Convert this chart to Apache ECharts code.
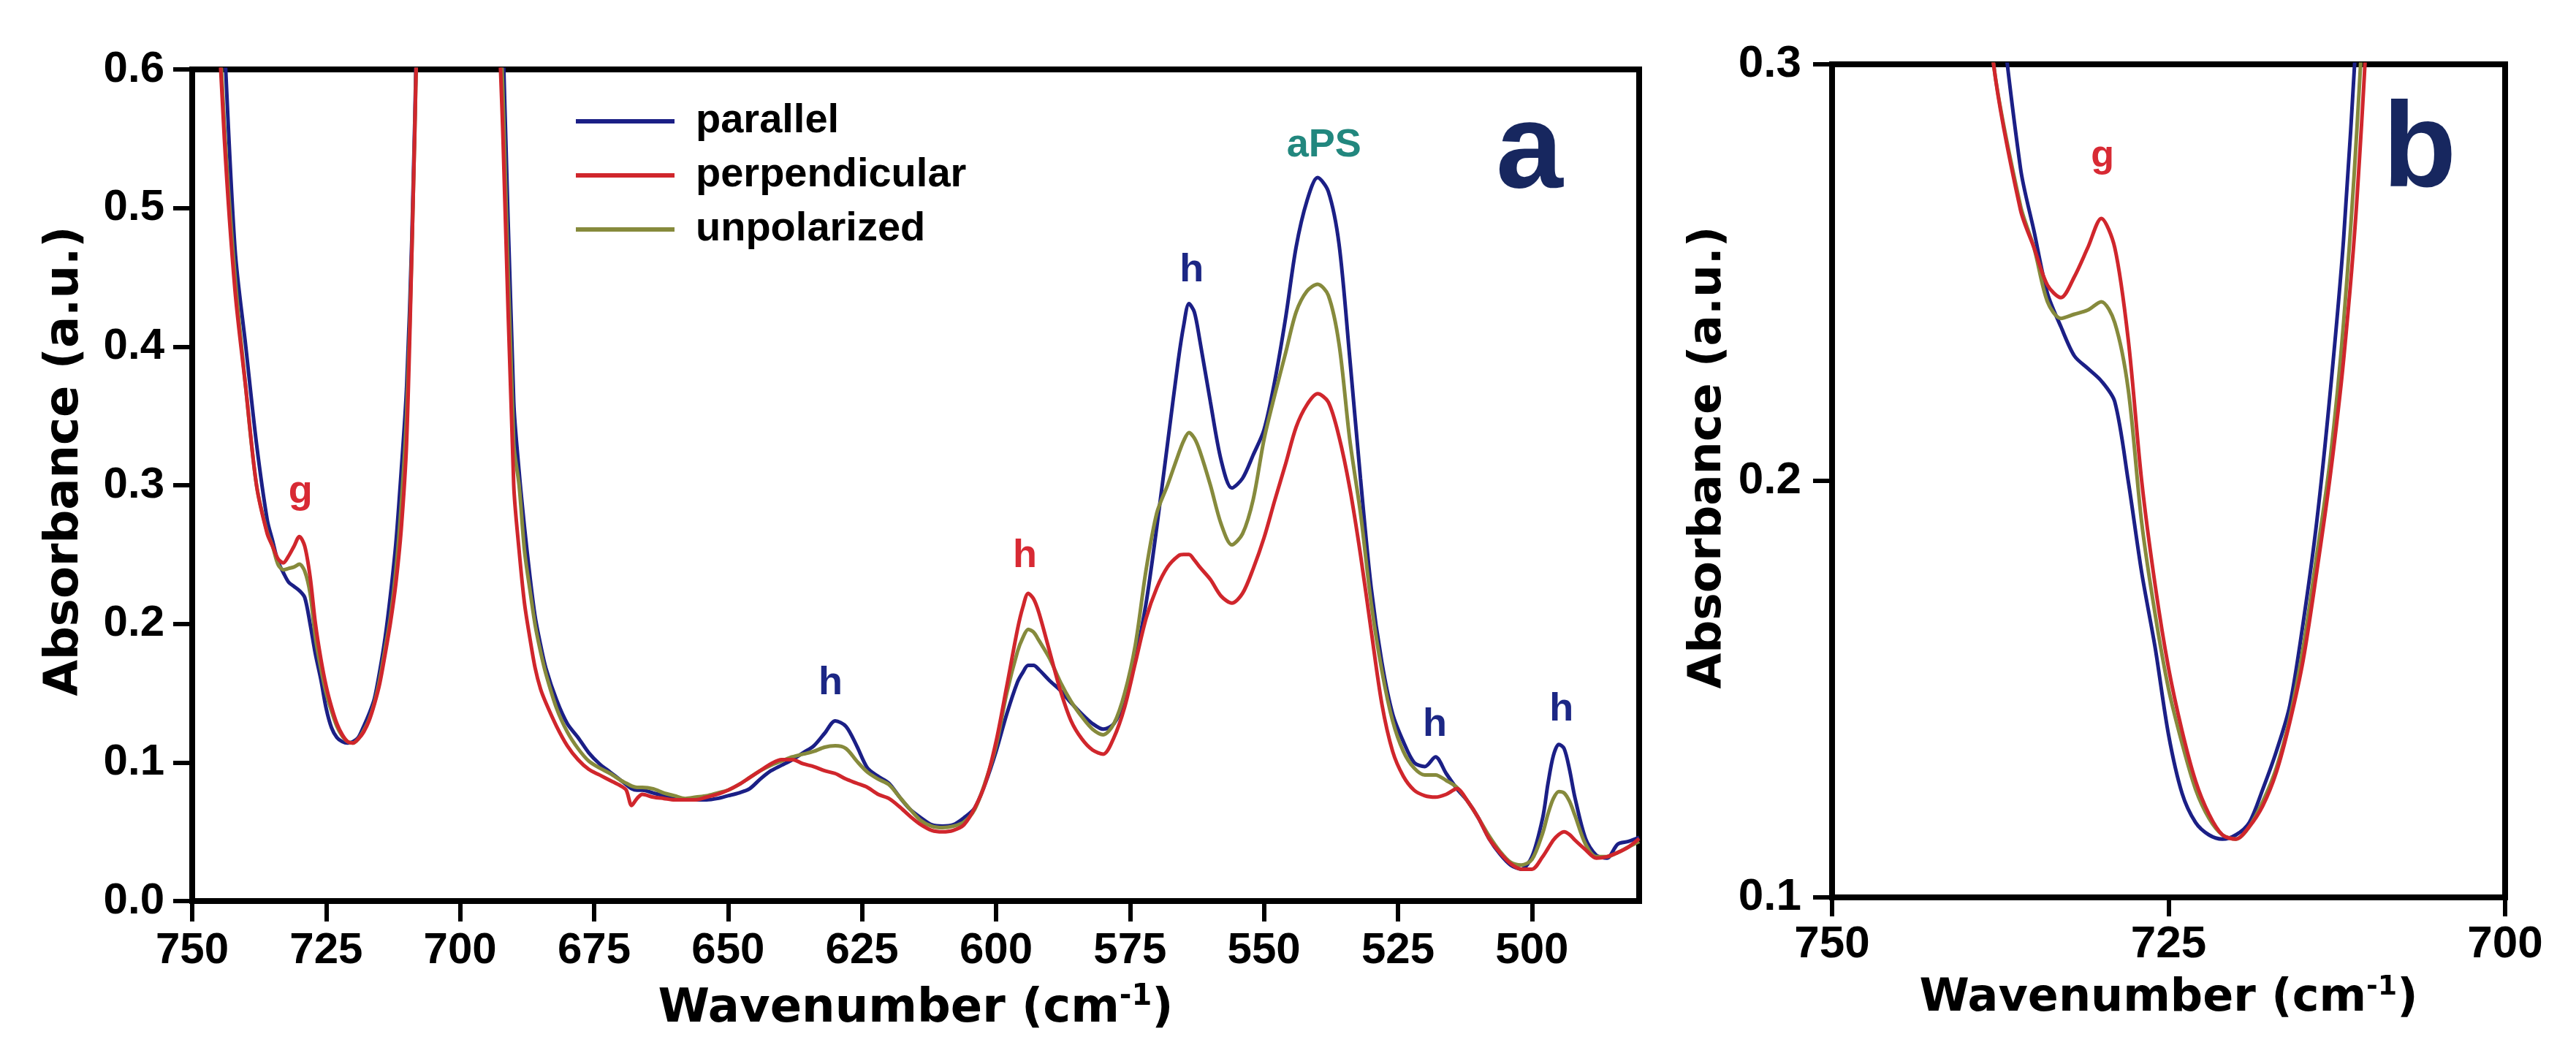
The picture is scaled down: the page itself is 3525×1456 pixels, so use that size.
<!DOCTYPE html>
<html>
<head>
<meta charset="utf-8">
<script src="https://cdn.jsdelivr.net/npm/echarts@6/dist/echarts.min.js"></script>
<style>
html, body { margin: 0; padding: 0; background: #fff; }
#chart { width: 3525px; height: 1456px; }
</style>
</head>
<body>
<div id="chart"></div>
<script>
// wavenumber grid (cm-1), shared by the three spectra
var wavenumber = [
  748,746,744,742,740,738,736,735,734,733,
  732,731,730,729,728,727,726,725,724,723,
  722,721,720,719,718,717,716,715,714,713,
  712,711,710,709,708,705,698,694,692,690,
  689,688,687,686,685,684,682,680,678,676,
  674,672,670,669,668,667,666,664,662,660,
  658,656,654,652,650,648,646,644,642,640,
  638,636,634,632,630,628,626,624,622,620,
  618,616,614,612,610,608,606,604,602,600,
  598,596,595,594,593,592,590,588,586,584,
  582,580,578,576,574,572,570,568,566,565,
  564,563,562,560,558,556,554,552,550,548,
  546,544,542,540,538,536,534,532,530,528,
  526,524,522,520,518,516,514,512,510,508,
  506,504,502,500,498,497,496,495,494,493,
  492,490,488,486,484,482,480
];

var parallel = [
  1.00,0.78,0.62,0.47,0.40,0.33,0.275,0.26,0.245,0.237,
  0.230,0.227,0.224,0.219,0.200,0.178,0.160,0.139,0.125,0.118,
  0.115,0.114,0.115,0.118,0.126,0.135,0.146,0.166,0.190,0.221,
  0.258,0.31,0.37,0.48,0.65,1.3,2.0,0.85,0.62,0.36,
  0.31,0.27,0.235,0.205,0.185,0.168,0.145,0.128,0.118,0.107,
  0.099,0.093,0.087,0.084,0.081,0.080,0.080,0.078,0.076,0.074,
  0.073,0.073,0.073,0.074,0.076,0.078,0.081,0.088,0.094,0.098,
  0.102,0.107,0.112,0.121,0.130,0.126,0.112,0.096,0.090,0.085,
  0.075,0.066,0.060,0.055,0.054,0.055,0.060,0.067,0.085,0.108,
  0.135,0.158,0.165,0.170,0.170,0.167,0.159,0.152,0.143,0.135,
  0.128,0.124,0.128,0.145,0.175,0.215,0.270,0.330,0.390,0.415,
  0.431,0.425,0.405,0.360,0.318,0.298,0.305,0.322,0.340,0.375,
  0.420,0.472,0.505,0.522,0.512,0.474,0.392,0.305,0.226,0.172,
  0.135,0.115,0.100,0.097,0.104,0.092,0.081,0.072,0.060,0.045,
  0.034,0.026,0.023,0.032,0.060,0.085,0.105,0.113,0.110,0.095,
  0.075,0.045,0.033,0.031,0.041,0.043,0.046
];

var perpendicular = [
  0.95,0.71,0.55,0.44,0.37,0.30,0.265,0.256,0.247,0.244,
  0.249,0.256,0.263,0.256,0.234,0.200,0.175,0.155,0.140,0.128,
  0.120,0.115,0.114,0.117,0.122,0.130,0.142,0.157,0.178,0.201,
  0.229,0.268,0.33,0.47,0.64,1.3,2.0,0.78,0.55,0.30,
  0.253,0.215,0.190,0.168,0.153,0.143,0.126,0.112,0.102,0.095,
  0.091,0.087,0.083,0.080,0.069,0.074,0.077,0.075,0.074,0.073,
  0.073,0.073,0.075,0.077,0.080,0.084,0.089,0.094,0.099,0.102,
  0.102,0.099,0.097,0.094,0.092,0.088,0.085,0.082,0.077,0.074,
  0.068,0.061,0.055,0.051,0.050,0.051,0.055,0.067,0.085,0.115,
  0.155,0.196,0.212,0.222,0.218,0.208,0.180,0.152,0.130,0.117,
  0.109,0.106,0.118,0.140,0.172,0.204,0.226,0.241,0.249,0.250,
  0.250,0.246,0.241,0.232,0.220,0.215,0.222,0.240,0.262,0.289,
  0.315,0.342,0.358,0.366,0.360,0.335,0.298,0.250,0.195,0.142,
  0.108,0.090,0.080,0.076,0.075,0.077,0.081,0.072,0.060,0.045,
  0.035,0.027,0.023,0.023,0.032,0.038,0.044,0.048,0.050,0.048,
  0.044,0.037,0.031,0.032,0.035,0.039,0.045
];

var unpolarized = [
  0.96,0.72,0.56,0.45,0.37,0.30,0.266,0.256,0.243,0.239,
  0.240,0.241,0.243,0.238,0.222,0.190,0.168,0.150,0.137,0.126,
  0.119,0.115,0.114,0.117,0.123,0.131,0.143,0.160,0.182,0.205,
  0.238,0.285,0.35,0.47,0.64,1.3,2.0,0.80,0.58,0.33,
  0.30,0.253,0.225,0.199,0.180,0.164,0.139,0.122,0.110,0.101,
  0.096,0.092,0.087,0.085,0.083,0.082,0.082,0.081,0.078,0.076,
  0.074,0.075,0.076,0.078,0.080,0.084,0.089,0.094,0.098,0.101,
  0.104,0.106,0.108,0.111,0.112,0.110,0.101,0.093,0.088,0.084,
  0.075,0.066,0.058,0.054,0.053,0.054,0.057,0.066,0.086,0.112,
  0.150,0.180,0.190,0.196,0.194,0.188,0.175,0.158,0.144,0.133,
  0.124,0.120,0.128,0.150,0.185,0.239,0.280,0.300,0.322,0.332,
  0.338,0.334,0.325,0.300,0.272,0.257,0.265,0.290,0.333,0.365,
  0.395,0.425,0.440,0.445,0.437,0.402,0.333,0.280,0.215,0.166,
  0.130,0.108,0.096,0.091,0.091,0.087,0.082,0.072,0.060,0.047,
  0.036,0.028,0.026,0.030,0.049,0.063,0.074,0.079,0.078,0.072,
  0.062,0.041,0.032,0.032,0.035,0.039,0.043
];

var xTicksA = [750, 725, 700, 675, 650, 625, 600, 575, 550, 525, 500];

// band labels: position (wavenumber, absorbance), text, and which trace it belongs to
var annotWnA = [729.8, 630.9, 594.6, 563.5, 538.8, 518.1, 494.5];
var annotValA = [0.295, 0.157, 0.249, 0.455, 0.545, 0.127, 0.138];
var annotTextA = ['g', 'h', 'h', 'h', 'aPS', 'h', 'h'];
var annotRefA = ['perpendicular', 'parallel', 'perpendicular', 'parallel', 'aPS', 'parallel', 'parallel'];

var annotWnB = [729.9];
var annotValB = [0.278];
var annotTextB = ['g'];
var annotRefB = ['perpendicular'];

var lineColor = { parallel: '#1b1f86', perpendicular: '#d0262c', unpolarized: '#868a3c' };
var labelColor = { parallel: '#1c2785', perpendicular: '#d82a34', aPS: '#22877e' };

var TICK_FONT = '"Liberation Sans", Arial, sans-serif';
var NAME_FONT = '"DejaVu Sans", Verdana, sans-serif';

function pairs(ys) {
  return wavenumber.map(function (w, i) { return [w, ys[i]]; });
}

function annotData(wns, vals, texts, refs) {
  return wns.map(function (w, i) {
    return {
      name: texts[i],
      value: [w, vals[i]],
      label: { color: labelColor[refs[i]] }
    };
  });
}

function yAxisOpt(idx, min, max, margin, labelSize) {
  return {
    type: 'value', gridIndex: idx, min: min, max: max, interval: 0.1,
    axisLine: { show: true, onZero: false, lineStyle: { color: '#000', width: 8 } },
    axisTick: { show: true, length: 26, lineStyle: { color: '#000', width: 6 } },
    axisLabel: { margin: margin, fontFamily: TICK_FONT, fontWeight: 'bold', fontSize: labelSize, color: '#000',
                 formatter: function (v) { return v.toFixed(1); } },
    splitLine: { show: false }
  };
}

function xName(size, supSize) {
  return {
    fontFamily: NAME_FONT, fontWeight: 'bold', fontSize: size, color: '#000', lineHeight: size + 8,
    rich: { s: { fontFamily: NAME_FONT, fontWeight: 'bold', fontSize: supSize, color: '#000',
                 verticalAlign: 'top', lineHeight: supSize } }
  };
}

// rotated y titles, placed as plain text
function yTitle(x, y, size) {
  return {
    type: 'text', x: x, y: y, rotation: Math.PI / 2,
    style: { text: 'Absorbance (a.u.)', fill: '#000', font: 'bold ' + size + 'px ' + NAME_FONT,
             textAlign: 'center', textVerticalAlign: 'middle', align: 'center', verticalAlign: 'middle' }
  };
}

var curves = [
  ['parallel', parallel],
  ['unpolarized', unpolarized],
  ['perpendicular', perpendicular]
];

var series = [];
[0, 1].forEach(function (p) {
  curves.forEach(function (c) {
    series.push({
      name: c[0], type: 'line', xAxisIndex: p, yAxisIndex: p,
      data: pairs(c[1]), showSymbol: false, symbol: 'none', smooth: 0.3, clip: true,
      lineStyle: { width: 5, color: lineColor[c[0]] },
      itemStyle: { color: lineColor[c[0]] }
    });
  });
});

[[annotData(annotWnA, annotValA, annotTextA, annotRefA), 0, 54],
 [annotData(annotWnB, annotValB, annotTextB, annotRefB), 1, 52]].forEach(function (a) {
  series.push({
    type: 'scatter', xAxisIndex: a[1], yAxisIndex: a[1], data: a[0],
    symbolSize: 1, itemStyle: { color: 'transparent', opacity: 1 }, silent: true,
    label: { show: true, position: 'inside', formatter: '{b}', opacity: 1,
             textBorderWidth: 0, textShadowBlur: 0,
             fontFamily: TICK_FONT, fontWeight: 'bold', fontSize: a[2] }
  });
});

var chart = echarts.init(document.getElementById('chart'));
var option = {
  animation: false,
  backgroundColor: '#fff',
  grid: [
    { left: 263, top: 95, width: 1980, height: 1138, show: true, borderColor: '#000', borderWidth: 8 },
    { left: 2507, top: 88, width: 921, height: 1140, show: true, borderColor: '#000', borderWidth: 8 }
  ],
  xAxis: [
    {
      type: 'value', gridIndex: 0, min: 480, max: 750, inverse: true,
      name: 'Wavenumber (cm{s|-1})', nameLocation: 'middle', nameGap: 112,
      nameTextStyle: xName(64, 40),
      axisLine: { show: true, onZero: false, lineStyle: { color: '#000', width: 8 } },
      axisTick: { show: true, length: 28, customValues: xTicksA, lineStyle: { color: '#000', width: 6 } },
      axisLabel: { margin: 38, customValues: xTicksA, fontFamily: TICK_FONT, fontWeight: 'bold', fontSize: 60, color: '#000' },
      splitLine: { show: false }
    },
    {
      type: 'value', gridIndex: 1, min: 700, max: 750, interval: 25, inverse: true,
      name: 'Wavenumber (cm{s|-1})', nameLocation: 'middle', nameGap: 104,
      nameTextStyle: xName(62, 38),
      axisLine: { show: true, onZero: false, lineStyle: { color: '#000', width: 8 } },
      axisTick: { show: true, length: 26, lineStyle: { color: '#000', width: 6 } },
      axisLabel: { margin: 34, fontFamily: TICK_FONT, fontWeight: 'bold', fontSize: 62, color: '#000' },
      splitLine: { show: false }
    }
  ],
  yAxis: [
    yAxisOpt(0, 0, 0.6, 38, 60),
    yAxisOpt(1, 0.1, 0.3, 42, 62)
  ],
  legend: {
    data: ['parallel', 'perpendicular', 'unpolarized'],
    orient: 'vertical', left: 783, top: 133,
    icon: 'rect', itemWidth: 135, itemHeight: 6, itemGap: 18,
    textStyle: { fontFamily: TICK_FONT, fontWeight: 'bold', fontSize: 56, lineHeight: 56, color: '#000',
                 padding: [0, 0, 0, 24] }
  },
  graphic: [
    yTitle(89, 631, 64),
    yTitle(2338, 626, 63),
    { type: 'text', x: 2093, y: 210,
      style: { text: 'a', fill: '#17275f', font: 'bold 165px "Liberation Sans", Arial, sans-serif',
               textAlign: 'center', textVerticalAlign: 'middle', align: 'center', verticalAlign: 'middle' } },
    { type: 'text', x: 3311, y: 209,
      style: { text: 'b', fill: '#17275f', font: 'bold 165px "Liberation Sans", Arial, sans-serif',
               textAlign: 'center', textVerticalAlign: 'middle', align: 'center', verticalAlign: 'middle' } }
  ],
  series: series
};
chart.setOption(option);
</script>
</body>
</html>
